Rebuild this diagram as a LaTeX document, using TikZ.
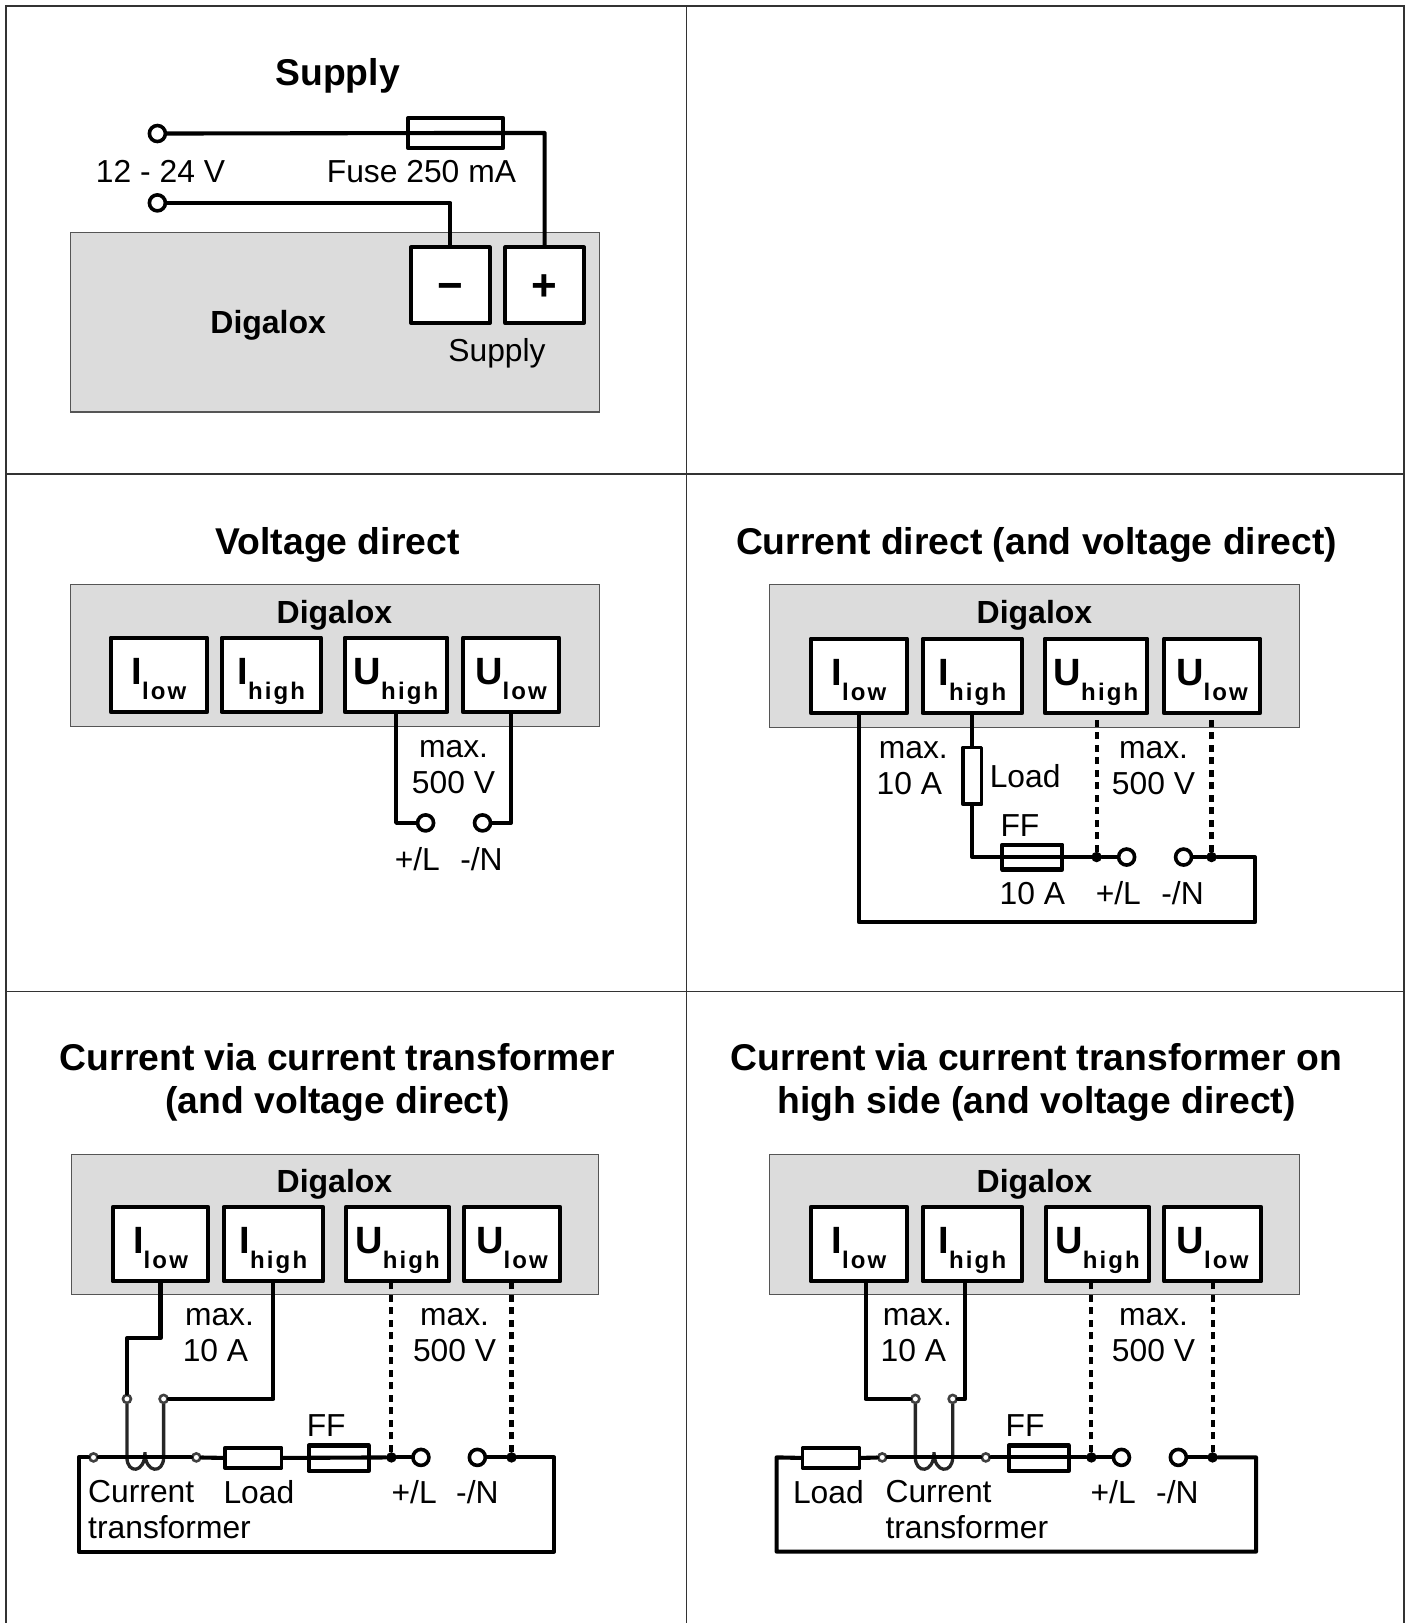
\documentclass[tikz,border=0pt]{standalone}
\usepackage{fontspec}
\setmainfont{Liberation Sans}
\usetikzlibrary{fit}
\definecolor{panelgrey}{HTML}{DCDCDC}
\definecolor{edgegrey}{HTML}{555555}
\newcommand{\portlabel}[2]{\bfseries\fontsize{38}{38}\selectfont #1\raisebox{-15pt}{\fontsize{24}{24}\selectfont\addfontfeature{LetterSpace=9}#2}}
% style, name, x1, y1, x2, y2, text
\newcommand{\boxnode}[7]{\node[#1,minimum width={(#5-#3)*1.0355pt},minimum height={(#6-#4)*1.0351pt}] (#2) at ({(#3+#5)/2},{(#4+#6)/2}) {#7};}
\tikzset{
  frameline/.style={line width=1.6pt,color=black!80},
  wire/.style={line width=4.1pt,line join=round,line cap=round},
  coilwire/.style={line width=3.3pt,color=black!85},
  dashwire/.style={line width=4.1pt,dash pattern=on 7pt off 5.5pt},
  greybox/.style={fill=panelgrey,draw=edgegrey,line width=1.2pt},
  portbox/.style={draw,fill=white,line width=4.1pt,inner sep=0pt,line join=round,text height=35pt,text depth=16pt},
  signbox/.style={draw,fill=white,line width=4.1pt,inner sep=0pt,line join=round,font=\bfseries\fontsize{44}{44}\selectfont,text height=31pt,text depth=0pt},
  fusebox/.style={draw,line width=4.1pt,inner sep=0pt,line join=round},
  loadbox/.style={draw,fill=white,line width=3.6pt,inner sep=0pt,line join=round},
  term/.style={circle,draw,fill=white,line width=3.6pt,minimum size=16pt,inner sep=0pt},
  tapterm/.style={circle,draw=black!75,fill=white,line width=2.6pt,minimum size=8pt,inner sep=0pt},
  joint/.style={circle,fill=black,minimum size=10.5pt,inner sep=0pt},
  lab/.style={inner sep=0pt,align=center,font=\fontsize{31.8}{35.5}\selectfont},
  onelab/.style={lab,text height=23pt,text depth=0pt},
  titlelab/.style={inner sep=0pt,align=center,font=\bfseries\fontsize{37.3}{43}\selectfont},
  devlab/.style={inner sep=0pt,font=\bfseries\fontsize{32}{32}\selectfont,text height=23pt,text depth=0pt},
}
\begin{document}
\begin{tikzpicture}[x=1.0355pt,y=-1.0351pt]
\useasboundingbox (0,0) rectangle (1364.6,1568);
% frame
\draw[frameline] (6,1568) -- (6,6) -- (1356,6) -- (1356,1568);
\draw[frameline] (6,458) -- (1356,458);
\draw[frameline] (6,958) -- (1356,958);
\draw[frameline] (663,6) -- (663,1568);

% ---------- Supply
\node[titlelab] (t1) at (326,73) {Supply};
\path[greybox] (68,225) rectangle (579,398);
\node[devlab] (d1) at (259,311) {Digalox};
\boxnode{signbox}{sm}{397}{239}{473}{312}{−}
\boxnode{signbox}{sp}{488}{239}{564}{312}{+}
\node[onelab] (ssup) at (480,338) {Supply};
\node[term] (s1) at (152,129) {};
\node[term] (s2) at (152,196) {};
\node[fusebox,fit={(394,114)(486,143)}] (sf) {};
\draw[wire] (s1) -- (sf.center) -- (sf.center -| sp) -- (sp.north);
\draw[wire] (s2) -| (sm.north);
\node[onelab] (sv) at (155,165) {12 - 24 V};
\node[onelab] (sfl) at (407,165) {Fuse 250 mA};

% ---------- Voltage direct
\node[titlelab] (t2) at (326,526) {Voltage direct};
\path[greybox] (68,565) rectangle (579,702);
\node[devlab] (d2) at (323,591) {Digalox};
\boxnode{portbox}{aIl}{107}{616}{200}{688}{\portlabel{I}{low}}
\boxnode{portbox}{aIh}{214}{616}{310}{688}{\portlabel{I}{high}}
\boxnode{portbox}{aUh}{333}{616}{432}{688}{\portlabel{U}{high}}
\boxnode{portbox}{aUl}{447}{616}{540}{688}{\portlabel{U}{low}}
\node[term] (aL) at (411,795) {};
\node[term] (aN) at (466,795) {};
\draw[wire] (aUh.south) |- (aL);
\draw[wire] (aUl.south) |- (aN);
\node[lab] (amax) at (438,741) {max.\\500 V};
\node[onelab] (aLl) at (403,830) {+/L};
\node[onelab] (aNl) at (465,830) {-/N};

% ---------- Current direct
\node[titlelab] (t3) at (1001,526) {Current direct (and voltage direct)};
\path[greybox] (743,565) rectangle (1255,703);
\node[devlab] (d3) at (999,591) {Digalox};
\boxnode{portbox}{bIl}{783}{617}{876}{689}{\portlabel{I}{low}}
\boxnode{portbox}{bIh}{891}{617}{987}{689}{\portlabel{I}{high}}
\boxnode{portbox}{bUh}{1009}{617}{1108}{689}{\portlabel{U}{high}}
\boxnode{portbox}{bUl}{1124}{617}{1217}{689}{\portlabel{U}{low}}
\node[loadbox,fit={(930,722)(948,777)}] (bR) {};
\node[fusebox,fit={(968,816)(1026,840)}] (bF) {};
\node[joint] (bj1) at (1059,828) {};
\node[joint] (bj2) at (1170,828) {};
\node[term] (bL) at (1088,828) {};
\node[term] (bN) at (1143,828) {};
\coordinate (bc1) at (1212,891);
\draw[dashwire] (bj1) -- (bj1 |- bUh.south);
\draw[dashwire] (bj2) -- (bj2 |- bUl.south);
\draw[wire] (bIh.south) -- (bR.north);
\draw[wire] (bR.south) |- (bj1);
\draw[wire] (bj1) -- (bL);
\draw[wire] (bN) -- (bj2);
\draw[wire] (bIl.south) |- (bc1) |- (bj2);
\node[lab] (bmaxa) at (882,742) {max.\\\hspace*{-8pt}10 A};
\node[lab] (bmaxv) at (1114,742) {max.\\500 V};
\node[onelab] (bLd) at (990,750) {Load};
\node[onelab] (bFF) at (985,797) {FF};
\node[onelab] (b10) at (997,863) {10 A};
\node[onelab] (bLl) at (1080,863) {+/L};
\node[onelab] (bNl) at (1142,863) {-/N};

% ---------- Current via current transformer
\node[titlelab] (t4) at (326,1046) {Current via current transformer\\(and voltage direct)};
\path[greybox] (69,1115) rectangle (578,1251);
\node[devlab] (d4) at (323,1141) {Digalox};
\boxnode{portbox}{cIl}{109}{1166}{201}{1238}{\portlabel{I}{low}}
\boxnode{portbox}{cIh}{216}{1166}{312}{1238}{\portlabel{I}{high}}
\boxnode{portbox}{cUh}{334}{1166}{434}{1238}{\portlabel{U}{high}}
\boxnode{portbox}{cUl}{448}{1166}{541}{1238}{\portlabel{U}{low}}
\coordinate (cmain) at (76,1408);
\coordinate (cbr) at (535,1499);
\coordinate (cbl) at (76,1499);
\coordinate (ck) at (122.6,1293);
\coordinate (cm) at (140,1403);
\node[fusebox,fit={(298,1396.5)(356,1421)}] (cF) {};
\node[loadbox,fit={(217,1399)(272,1418)}] (cR) {};
\node[tapterm] (ca) at (122.6,1351.5) {};
\node[tapterm] (cb) at (158,1351.5) {};
\node[tapterm] (cs1) at (90.3,1408) {};
\node[tapterm] (cs2) at (189.6,1408) {};
\node[joint] (cj1) at (378,1408) {};
\node[joint] (cj2) at (494,1408) {};
\node[term] (cL) at (406.5,1408) {};
\node[term] (cN) at (461,1408) {};
\draw[dashwire] (cj1) -- (cj1 |- cUh.south);
\draw[dashwire] (cj2) -- (cj2 |- cUl.south);
\draw[wire] (cIl.south) |- (ck) -- (ca);
\draw[wire] (cIh.south) |- (cb);
\draw[coilwire] (ca) -- (ca |- cmain) .. controls +(0,16) and +(0,21) .. (cm) .. controls +(0,21) and +(0,16) .. (cb |- cmain) -- (cb);
\draw[wire] (cs1) -- (cs2);
\draw[wire] (cs2) -- (cR.west);
\draw[wire] (cR.east) -- (cj1);
\draw[wire] (cj1) -- (cL);
\draw[wire] (cN) -- (cj2);
\draw[wire] (cj2) -- (cj2 -| cbr) -- (cbr) -- (cbl) -- (cmain) -- (cs1);
\node[lab] (cmaxa) at (212,1290) {max.\\\hspace*{-8pt}10 A};
\node[lab] (cmaxv) at (439,1290) {max.\\500 V};
\node[onelab] (cFF) at (315,1377) {FF};
\node[lab,align=left,anchor=north west] (cct) at (85,1430) {Current\\transformer};
\node[onelab] (cLd) at (250,1441) {Load};
\node[onelab] (cLl) at (400,1441) {+/L};
\node[onelab] (cNl) at (461,1441) {-/N};

% ---------- Current via current transformer on high side
\node[titlelab] (t5) at (1001,1046) {Current via current transformer on\\high side (and voltage direct)};
\path[greybox] (743,1115) rectangle (1255,1251);
\node[devlab] (d5) at (999,1141) {Digalox};
\boxnode{portbox}{eIl}{783}{1166}{876}{1238}{\portlabel{I}{low}}
\boxnode{portbox}{eIh}{891}{1166}{987}{1238}{\portlabel{I}{high}}
\boxnode{portbox}{eUh}{1010}{1166}{1110}{1238}{\portlabel{U}{high}}
\boxnode{portbox}{eUl}{1124}{1166}{1218}{1238}{\portlabel{U}{low}}
\coordinate (emain) at (750,1408);
\coordinate (ebr) at (1213,1499);
\coordinate (ebl) at (750,1499);
\coordinate (ek1) at (836,1351.5);
\coordinate (ek2) at (932,1351.5);
\coordinate (em) at (902,1403);
\node[fusebox,fit={(974,1396.5)(1032,1421)}] (eF) {};
\node[loadbox,fit={(775,1399)(830,1418)}] (eR) {};
\node[tapterm] (ea) at (884,1351.5) {};
\node[tapterm] (eb) at (920,1351.5) {};
\node[tapterm] (es1) at (852,1408) {};
\node[tapterm] (es2) at (952,1408) {};
\node[joint] (ej1) at (1054,1408) {};
\node[joint] (ej2) at (1171,1408) {};
\node[term] (eL) at (1083,1408) {};
\node[term] (eN) at (1138,1408) {};
\draw[dashwire] (ej1) -- (ej1 |- eUh.south);
\draw[dashwire] (ej2) -- (ej2 |- eUl.south);
\draw[wire] (ek1 |- eIl.south) -- (ek1) -- (ea);
\draw[wire] (ek2 |- eIh.south) -- (ek2) -- (eb);
\draw[coilwire] (ea) -- (ea |- emain) .. controls +(0,16) and +(0,21) .. (em) .. controls +(0,21) and +(0,16) .. (eb |- emain) -- (eb);
\draw[wire] (eR.west) -- (emain) -- (ebl) -- (ebr) -- (ebr |- ej2) -- (ej2);
\draw[wire] (eR.east) -- (es1);
\draw[wire] (es1) -- (es2);
\draw[wire] (es2) -- (ej1);
\draw[wire] (ej1) -- (eL);
\draw[wire] (eN) -- (ej2);
\node[lab] (emaxa) at (886,1290) {max.\\\hspace*{-8pt}10 A};
\node[lab] (emaxv) at (1114,1290) {max.\\500 V};
\node[onelab] (eFF) at (990,1377) {FF};
\node[lab,align=left,anchor=north west] (ect) at (855,1430) {Current\\transformer};
\node[onelab] (eLd) at (800,1441) {Load};
\node[onelab] (eLl) at (1075,1441) {+/L};
\node[onelab] (eNl) at (1137,1441) {-/N};
\end{tikzpicture}
\end{document}
